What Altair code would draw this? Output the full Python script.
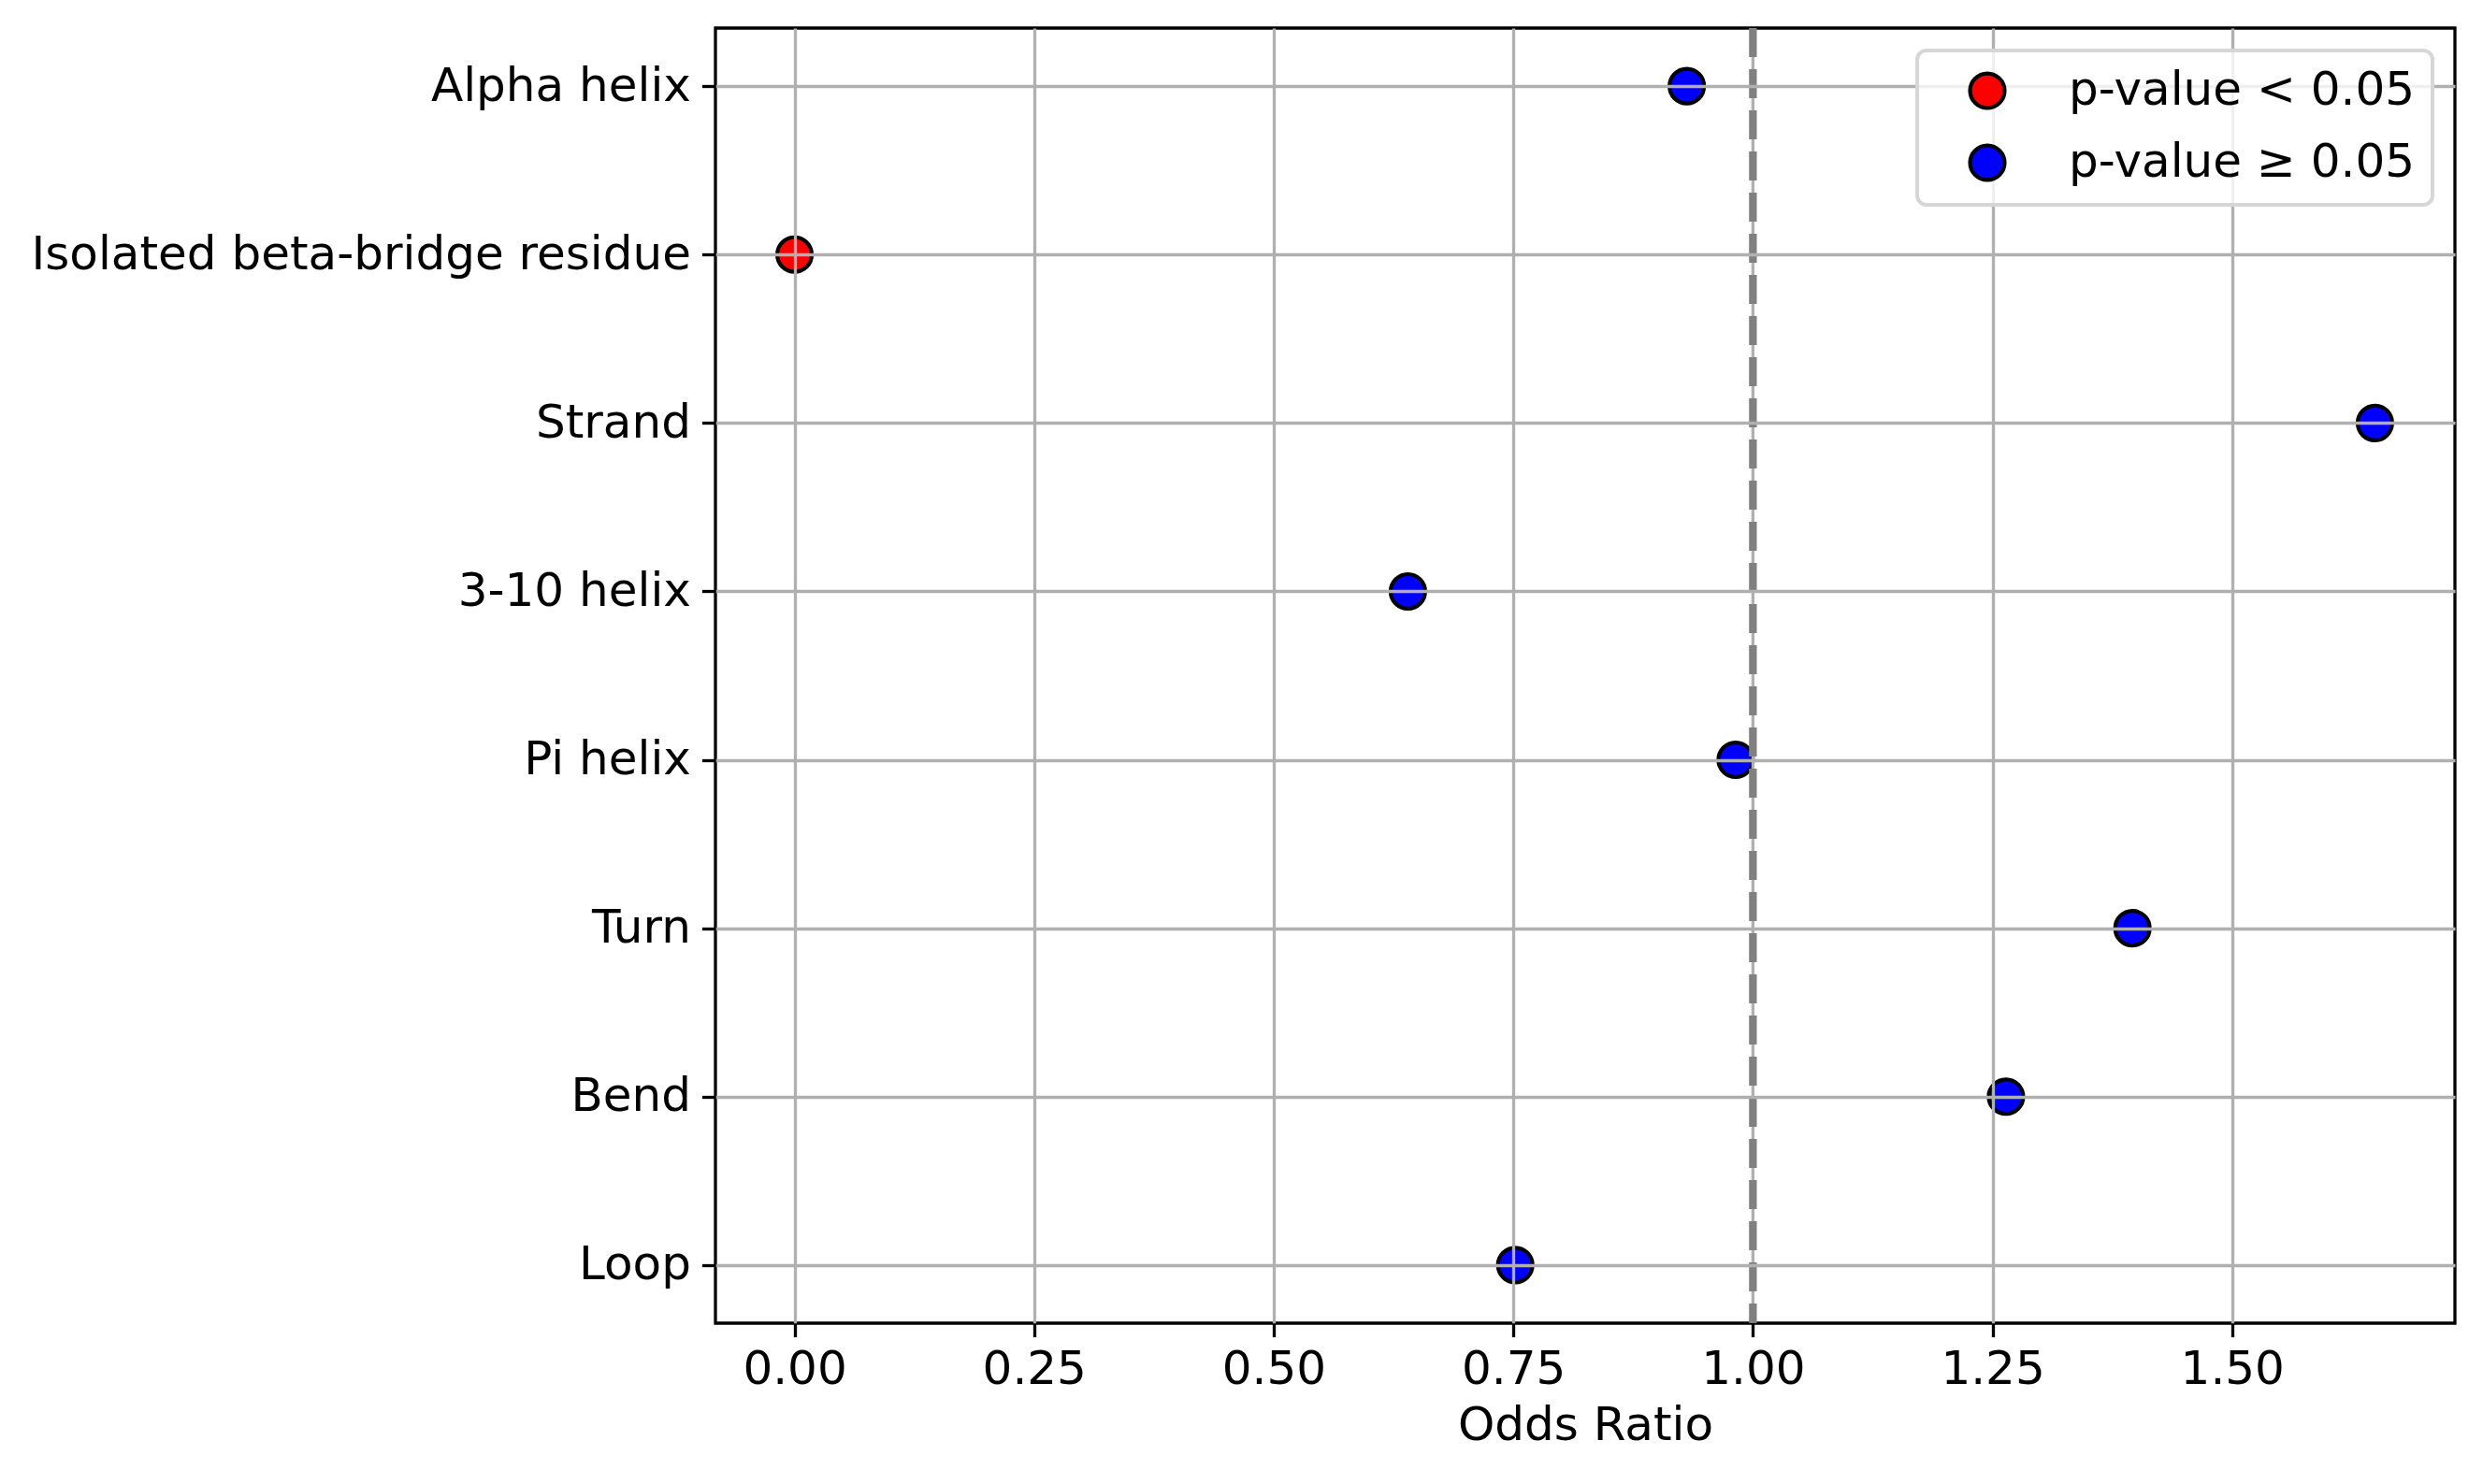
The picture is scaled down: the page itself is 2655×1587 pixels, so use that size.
import altair as alt
import pandas as pd

categories = ["Alpha helix", "Isolated beta-bridge residue", "Strand", "3-10 helix",
              "Pi helix", "Turn", "Bend", "Loop"]
odds_ratios = [0.931, 0.0, 1.649, 0.640, 0.982, 1.396, 1.264, 0.752]
significance = ["p-value ≥ 0.05", "p-value < 0.05", "p-value ≥ 0.05", "p-value ≥ 0.05",
                "p-value ≥ 0.05", "p-value ≥ 0.05", "p-value ≥ 0.05", "p-value ≥ 0.05"]
legend_labels = ["p-value < 0.05", "p-value ≥ 0.05"]
legend_colors = ["#ff0000", "#0000ff"]
x_ticks = [0.0, 0.25, 0.5, 0.75, 1.0, 1.25, 1.5]
x_domain = [-0.0825, 1.7325]
reference_line = [1.0]

df = pd.DataFrame({"category": categories, "odds": odds_ratios, "sig": significance})
ref_df = pd.DataFrame({"x": reference_line})

FONT = "DejaVu Sans"
GRID = "#b0b0b0"

points = alt.Chart(df).mark_point(
    filled=True, shape="circle", size=1364, stroke="black", strokeWidth=4.2, opacity=1
).encode(
    x=alt.X("odds:Q",
            scale=alt.Scale(domain=x_domain, nice=False, zero=False),
            axis=alt.Axis(values=x_ticks, format=".2f", title="Odds Ratio",
                          labelFontSize=50, titleFontSize=50, titleFontWeight="normal",
                          labelFont=FONT, titleFont=FONT, labelColor="black", titleColor="black",
                          tickSize=14.6, tickWidth=3.3, tickColor="black",
                          labelPadding=10, titlePadding=10,
                          domain=False, grid=True, gridWidth=3.3,
                          gridColor=alt.condition("datum.value == 1",
                                                  alt.value("transparent"), alt.value(GRID)),
                          labelFlush=False, zindex=1)),
    y=alt.Y("category:N", sort=categories,
            scale=alt.Scale(type="point", padding=0.345),
            axis=alt.Axis(title=None, labelFontSize=50, labelFont=FONT, labelColor="black",
                          tickSize=14.6, tickWidth=3.3, tickColor="black",
                          labelPadding=12, labelLimit=1500,
                          domain=False, grid=True, gridColor=GRID, gridWidth=3.3,
                          minExtent=757, maxExtent=757, zindex=1)),
    fill=alt.Fill("sig:N", title=None,
                  scale=alt.Scale(domain=legend_labels, range=legend_colors),
                  legend=alt.Legend(orient="top-right", offset=24, padding=18,
                                    symbolOffset=32, labelOffset=62, rowPadding=23,
                                    fillColor="rgba(255,255,255,0.8)", strokeColor="#d6d6d6",
                                    cornerRadius=10, zindex=5,
                                    symbolType="circle", symbolSize=1364,
                                    symbolStrokeColor="black", symbolStrokeWidth=4.2,
                                    symbolOpacity=1,
                                    labelFontSize=50, labelFont=FONT, labelColor="black",
                                    labelLimit=1500))
)

grid_at_ref = alt.Chart(ref_df).mark_rule(
    color=GRID, strokeWidth=3.3
).encode(x="x:Q")

rule = alt.Chart(ref_df).mark_rule(
    color="#808080", strokeWidth=8.3, strokeDash=[31, 13]
).encode(x="x:Q")

chart = alt.layer(points, grid_at_ref, rule).properties(
    width=1860, height=1385, background="white",
    padding={"left": 0, "top": 17, "right": 5, "bottom": 5}
).configure_view(
    stroke="black", strokeWidth=3.3
).configure_legend(
    strokeWidth=4
)

chart.save("out.html", embed_options={"renderer": "svg", "actions": False})
